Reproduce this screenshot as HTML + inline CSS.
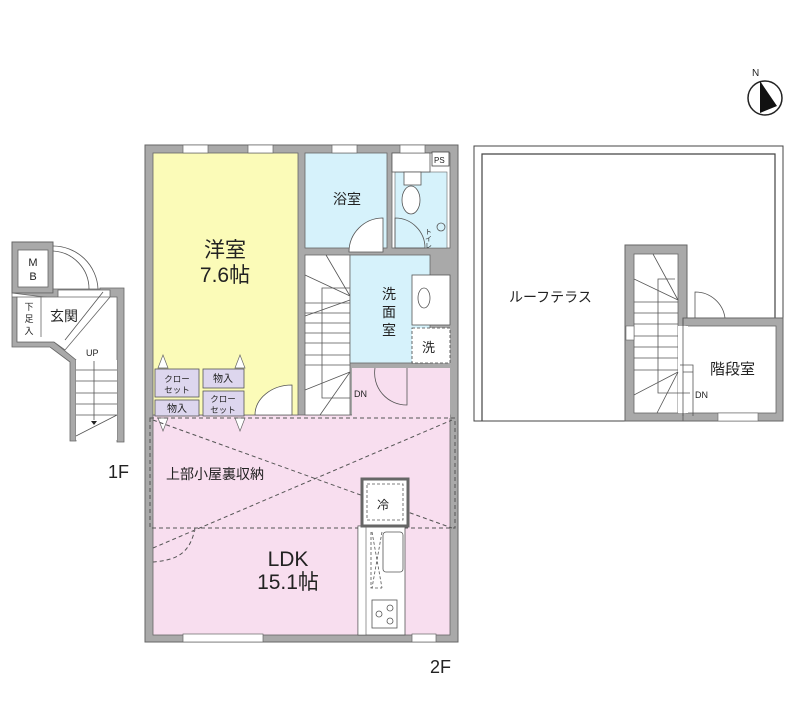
<!DOCTYPE html>
<html><head><meta charset="utf-8"><style>
html,body{margin:0;padding:0;background:#fff;}
svg{display:block;font-family:"Liberation Sans","Noto Sans CJK JP",sans-serif;}
</style></head><body>
<svg width="800" height="706" viewBox="0 0 800 706" xmlns="http://www.w3.org/2000/svg">
<rect width="800" height="706" fill="#fff"/>
<!-- North -->
<circle cx="765" cy="98" r="17" fill="none" stroke="#222" stroke-width="1.5"/>
<polygon points="760,81 760,113 777,106" fill="#111"/>
<text x="752" y="76" font-size="10" fill="#222">N</text>

<!-- ===== 2F ===== -->
<rect x="145" y="145" width="313" height="497" fill="#a9a9a9" stroke="#666" stroke-width="1"/>
<rect x="153" y="415" width="297" height="220" fill="#f8deef" stroke="#666" stroke-width="0.8"/>
<rect x="352" y="368" width="98" height="50" fill="#f8deef"/>
<rect x="153" y="153" width="145" height="262" fill="#fbfbb8" stroke="#666" stroke-width="0.8"/>
<rect x="305" y="153" width="82" height="95" fill="#d6f2fb" stroke="#666" stroke-width="0.8"/>
<rect x="392" y="153" width="58" height="95" fill="#fff" stroke="#666" stroke-width="0.8"/>
<rect x="395" y="172" width="52" height="76" fill="#d6f2fb" stroke="#666" stroke-width="0.6"/>
<rect x="392" y="153" width="38" height="19" fill="#fff" stroke="#555" stroke-width="0.8"/>
<rect x="404" y="172" width="17" height="13" fill="#fff" stroke="#555" stroke-width="0.8"/>
<ellipse cx="411" cy="200" rx="9" ry="14" fill="#fff" stroke="#555" stroke-width="0.8"/>
<rect x="432" y="152" width="17" height="14" fill="#fff" stroke="#444" stroke-width="0.8"/>
<text x="434" y="163" font-size="8" fill="#222">PS</text>
<circle cx="441" cy="227" r="4" fill="none" stroke="#555" stroke-width="0.8"/>
<text x="428" y="228" font-size="7" fill="#222" writing-mode="tb">トイレ</text>
<rect x="305" y="255" width="45" height="160" fill="#fff" stroke="#666" stroke-width="0.8"/>
<g stroke="#555" stroke-width="0.8" fill="none">
<path d="M305,303 H350 M305,313 H350 M305,323 H350 M305,333 H350 M305,343 H350 M305,355 H350 M305,365 H350"/>
<path d="M326,255 L350,296 M305,275 L350,296 M305,316 L350,300 M305,390 L350,372 M320,415 L350,372"/>
<path d="M322,378 V288 H350 M322,378 V398 H350"/>
</g>
<text x="352" y="283" font-size="9" fill="#222">UP</text>
<text x="354" y="397" font-size="9" fill="#222">DN</text>
<rect x="350" y="255" width="80" height="108" fill="#d6f2fb" stroke="#666" stroke-width="0.8"/>
<rect x="412" y="275" width="38" height="50" fill="#fff" stroke="#555" stroke-width="0.8"/>
<ellipse cx="424" cy="298" rx="6" ry="10" fill="#fff" stroke="#555" stroke-width="0.8"/>
<rect x="412" y="328" width="38" height="35" fill="#fff" stroke="#444" stroke-width="0.8" stroke-dasharray="3,2"/>
<text x="422" y="352" font-size="13" fill="#222">洗</text>
<g stroke="#555" stroke-width="0.8" fill="#fff">
<path d="M383,218 V252 H349 A34,34 0 0 1 383,218 Z" fill="#fff"/>
<path d="M395,218 V248 H425 A30,30 0 0 0 395,218 Z" fill="none"/>
<path d="M292,385 V415 H255 A37,30 0 0 1 292,385 Z" fill="#fff"/>
<path d="M375,368 A32,32 0 0 0 407,405 V368" fill="none"/>
</g>
<g fill="#ddd6ee" stroke="#555" stroke-width="0.8">
<rect x="155" y="369" width="44" height="28"/><rect x="203" y="369" width="41" height="19"/>
<rect x="155" y="400" width="44" height="16"/><rect x="203" y="391" width="41" height="25"/>
</g>
<g font-size="8.5" fill="#222" text-anchor="middle">
<text x="177" y="382">クロー</text><text x="177" y="393">セット</text>
<text x="223" y="382" font-size="10">物入</text>
<text x="177" y="412" font-size="10">物入</text>
<text x="223" y="402">クロー</text><text x="223" y="413">セット</text>
</g>
<g fill="#fff" stroke="#666" stroke-width="0.7">
<polygon points="158,368 163,355 168,368"/><polygon points="235,368 240,355 245,368"/>
<polygon points="158,418 163,431 168,418"/><polygon points="235,418 240,431 245,418"/>
</g>
<g fill="#fff" stroke="#666" stroke-width="0.7">
<rect x="183" y="145" width="25" height="8"/><rect x="248" y="145" width="25" height="8"/>
<rect x="332" y="145" width="25" height="8"/><rect x="400" y="145" width="25" height="8"/>
<rect x="183" y="634" width="80" height="8"/><rect x="412" y="634" width="24" height="8"/>
</g>
<g stroke="#555" stroke-width="1" fill="none" stroke-dasharray="4,3">
<rect x="150" y="418" width="305" height="110"/>
<path d="M153,420 L452,528 M153,548 L452,420 M195,528 C190,555 175,560 153,562"/>
</g>
<rect x="358" y="526" width="47" height="109" fill="#fff" stroke="#555" stroke-width="0.8"/>
<rect x="358" y="526" width="8" height="109" fill="#fff" stroke="#555" stroke-width="0.6"/>
<rect x="383" y="532" width="20" height="40" rx="3" fill="#fff" stroke="#555" stroke-width="0.8"/>
<rect x="372" y="600" width="25" height="28" fill="#fff" stroke="#555" stroke-width="0.8"/>
<g fill="none" stroke="#555" stroke-width="0.8"><circle cx="379" cy="614" r="3"/><circle cx="390" cy="608" r="3"/><circle cx="390" cy="621" r="3"/></g>
<g stroke="#555" stroke-width="0.8" fill="none" stroke-dasharray="3,2">
<path d="M372,532 L382,588"/><path d="M382,532 L372,588"/><path d="M371,532 V588 H382"/>
</g>
<rect x="362" y="479" width="46" height="47" fill="#fff" stroke="#666" stroke-width="3"/>
<rect x="367" y="484" width="36" height="36" fill="#fff" stroke="#555" stroke-width="0.8" stroke-dasharray="3,2"/>
<text x="377" y="509" font-size="12" fill="#222">冷</text>
<text x="225" y="257" font-size="21" fill="#222" text-anchor="middle">洋室</text>
<text x="225" y="282" font-size="21" fill="#222" text-anchor="middle">7.6帖</text>
<text x="347" y="204" font-size="14" fill="#222" text-anchor="middle">浴室</text>
<text x="389" y="299" font-size="14" fill="#222" text-anchor="middle">洗</text>
<text x="389" y="317" font-size="14" fill="#222" text-anchor="middle">面</text>
<text x="389" y="335" font-size="14" fill="#222" text-anchor="middle">室</text>
<text x="166" y="479" font-size="14" fill="#222">上部小屋裏収納</text>
<text x="288" y="566" font-size="21" fill="#222" text-anchor="middle">LDK</text>
<text x="288" y="589" font-size="21" fill="#222" text-anchor="middle">15.1帖</text>
<text x="430" y="673" font-size="18" fill="#222">2F</text>

<!-- ===== Roof terrace ===== -->
<rect x="474" y="146" width="309" height="275" fill="#fff" stroke="#444" stroke-width="1"/>
<polyline points="482,421 482,154 775,154 775,318" fill="none" stroke="#444" stroke-width="1.2"/>
<rect x="625" y="245" width="62" height="176" fill="#a9a9a9" stroke="#666"/>
<rect x="683" y="318" width="100" height="103" fill="#a9a9a9" stroke="#666"/>
<rect x="634" y="254" width="44" height="159" fill="#fff" stroke="#666" stroke-width="0.8"/>
<rect x="686" y="326" width="90" height="87" fill="#fff" stroke="#666" stroke-width="0.8"/>
<rect x="678" y="326" width="10" height="87" fill="#fff"/>
<g stroke="#555" stroke-width="0.8" fill="none">
<path d="M634,302 H678 M634,313 H678 M634,324 H678 M634,336 H678 M634,347 H678 M634,358 H678 M634,370 H678"/>
<path d="M653,254 L678,300 M634,279 L678,300 M634,395 L678,372 M657,413 L678,372"/>
<path d="M658,392 V279 H675 M658,392 V393 H690"/>
<path d="M683,318 V416 M693,370 V416 M680,365 H693 V372 H683"/>
<path d="M695,318 V292 A30,30 0 0 1 725,318"/>
</g>
<rect x="626" y="326" width="8" height="14" fill="#fff" stroke="#666" stroke-width="0.6"/>
<rect x="718" y="413" width="40" height="8" fill="#fff" stroke="#666" stroke-width="0.6"/>
<text x="509" y="302" font-size="14" fill="#222">ルーフテラス</text>
<text x="710" y="374" font-size="15" fill="#222">階段室</text>
<text x="695" y="398" font-size="9" fill="#222">DN</text>

<!-- ===== 1F ===== -->
<path d="M12,242 H53 V293 H12 Z" fill="#a9a9a9" stroke="#666"/>
<rect x="18" y="250" width="30" height="37" fill="#fff" stroke="#666" stroke-width="0.8"/>
<path d="M12,293 H53 V289 H100 V288 H124 V442 H117 V297 H110 V290 L58,290 V298 H52 Z" fill="#a9a9a9" stroke="#666" stroke-width="0.8"/>
<path d="M12,293 V347 H50 L70,362 V441 H76 V360 L54,342 H17 V297 H12" fill="#a9a9a9" stroke="#666" stroke-width="0.8"/>
<path d="M17,297 H110 L65,350 L54,342 H17 Z" fill="#fff" stroke="#666" stroke-width="0.8"/>
<rect x="76" y="360" width="41" height="80" fill="#fff"/>
<path d="M53,246 A45,45 0 0 1 98,289 M53,251 A38,38 0 0 1 89,289" fill="none" stroke="#555" stroke-width="0.8"/>
<line x1="41" y1="297" x2="41" y2="337" stroke="#666" stroke-width="0.8"/>
<g stroke="#555" stroke-width="0.8" fill="none">
<path d="M76,370 H117 M76,381 H117 M76,393 H117 M76,404 H117 M76,415 H117 M76,436 L117,415"/>
<path d="M94,361 V420"/>
<path d="M103,292 L65,340"/>
</g>
<polygon points="91,421 97,421 94,425" fill="#222"/>
<text x="33" y="266" font-size="11" fill="#222" text-anchor="middle">M</text>
<text x="33" y="280" font-size="11" fill="#222" text-anchor="middle">B</text>
<text x="29" y="310" font-size="9" fill="#222" text-anchor="middle">下</text>
<text x="29" y="322" font-size="9" fill="#222" text-anchor="middle">足</text>
<text x="29" y="334" font-size="9" fill="#222" text-anchor="middle">入</text>
<text x="50" y="321" font-size="14" fill="#222">玄関</text>
<text x="86" y="356" font-size="9" fill="#222">UP</text>
<text x="108" y="478" font-size="18" fill="#222">1F</text>
</svg>
</body></html>
